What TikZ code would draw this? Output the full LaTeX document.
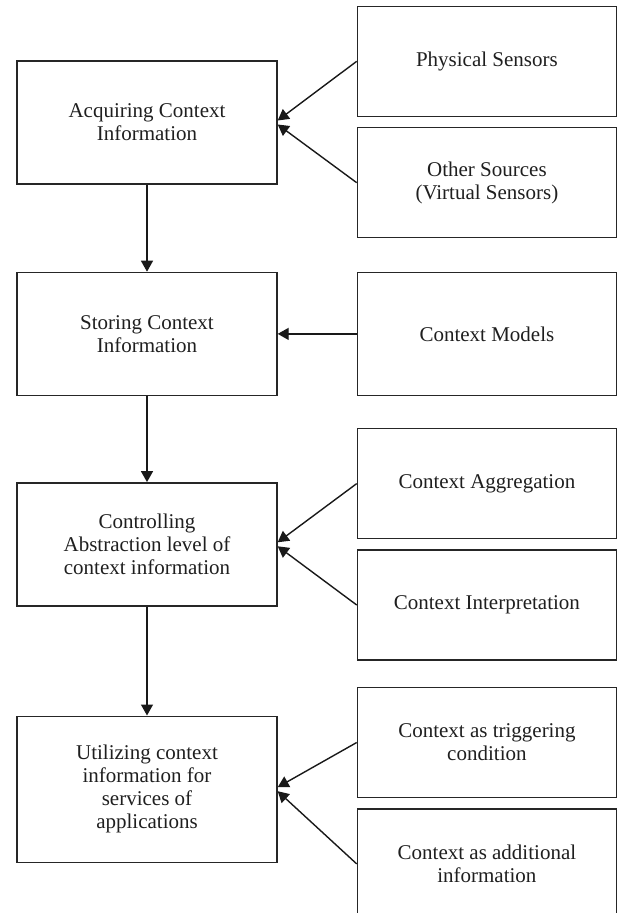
\documentclass[tikz,border=0pt]{standalone}
\usepackage{fontspec}
\setmainfont{Liberation Serif}
\usetikzlibrary{arrows.meta,positioning}

\begin{document}
\begin{tikzpicture}[
  x=0.5pt,y=-0.5pt,
  stage/.style={draw=black!85,line width=0.7pt,align=center,minimum width=130pt,
                minimum height=61.5pt,text=black!88,
                font=\fontsize{10.5}{11.5}\selectfont},
  src/.style={stage,minimum width=129.5pt,minimum height=55pt},
  flow/.style={-{Triangle[length=5.5pt,width=6pt]},line width=0.7pt,draw=black!90}
]
\useasboundingbox (0,0) rectangle (616,913);
% main stages
\node[stage] (acq) at (147,122.5) {Acquiring Context\\Information};
\node[stage,below=43.5pt of acq] (store) {Storing Context\\Information};
\node[stage,below=43pt of store] (ctrl) {Controlling\\Abstraction level of\\context information};
\node[stage,below=54.5pt of ctrl,minimum height=73pt] (util)
  {Utilizing context\\information for\\services of\\applications};
% sources on the right
\node[src,anchor=south west] (phys) at ([xshift=39.5pt,yshift=2.75pt]acq.east) {Physical Sensors};
\node[src,below=5pt of phys] (other) {Other Sources\\(Virtual Sensors)};
\node[src,right=39.5pt of store,minimum height=61.5pt] (models) {Context Models};
\node[src,anchor=south west] (aggr) at ([xshift=39.5pt,yshift=2.5pt]ctrl.east) {Context Aggregation};
\node[src,below=5pt of aggr] (interp) {Context Interpretation};
\node[src,anchor=south west] (trig) at ([xshift=39.5pt,yshift=-4.5pt]util.east) {Context as triggering\\condition};
\node[src,below=5pt of trig] (addl) {Context as additional\\information};
\draw[flow] (acq) -- (store);
\draw[flow] (store) -- (ctrl);
\draw[flow] (ctrl) -- (util);
\draw[flow] (phys.west) -- ([yshift=1pt]acq.east);
\draw[flow] (other.west) -- ([yshift=-1pt]acq.east);
\draw[flow] (models) -- (store);
\draw[flow] (aggr.west) -- ([yshift=1pt]ctrl.east);
\draw[flow] (interp.west) -- ([yshift=-1pt]ctrl.east);
\draw[flow] (trig.west) -- ([yshift=1pt]util.east);
\draw[flow] (addl.west) -- ([yshift=-1pt]util.east);
\end{tikzpicture}
\end{document}
